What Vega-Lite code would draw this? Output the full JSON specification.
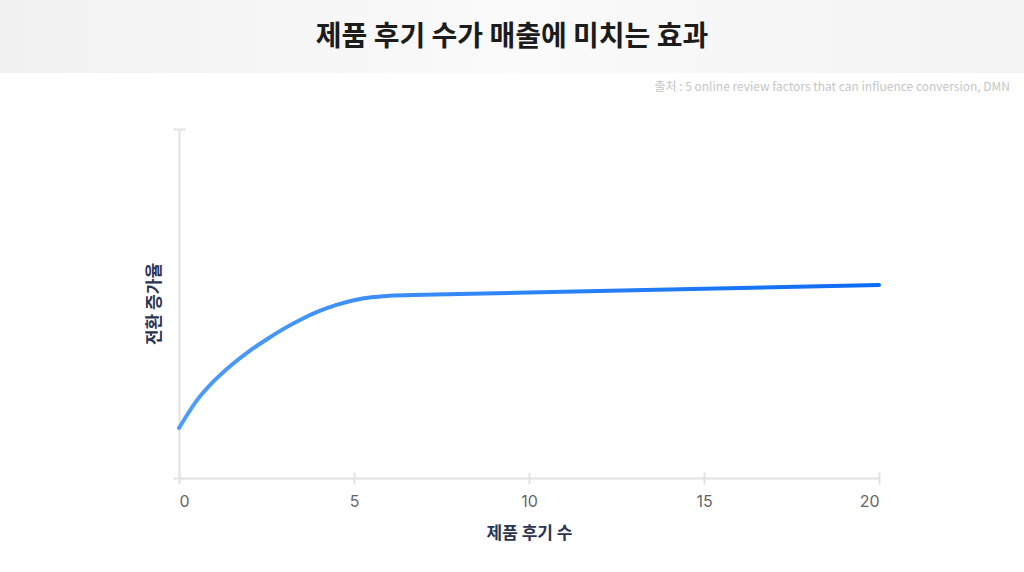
{
  "$schema": "https://vega.github.io/schema/vega-lite/v6.json",
  "padding": {"left": 0, "top": 0, "right": 0, "bottom": 20},
  "background": "white",
  "spacing": 35,
  "config": {
    "view": {"stroke": null},
    "font": "Noto Sans CJK KR",
    "concat": {"spacing": 0}
  },
  "vconcat": [
    {
      "width": 1024,
      "height": 73,
      "view": {
        "stroke": null,
        "fill": {"gradient": "linear", "x1": 0, "y1": 0, "x2": 1, "y2": 0, "stops": [{"offset": 0, "color": "#f1f1f1"}, {"offset": 0.5, "color": "#fafafa"}, {"offset": 1, "color": "#f3f3f3"}]}
      },
      "title": {
        "text": "출처 : 5 online review factors that can influence conversion, DMN",
        "orient": "bottom",
        "anchor": "end",
        "offset": 9,
        "dx": -14,
        "fontSize": 12,
        "fontWeight": "normal",
        "color": "#c6c6c6"
      },
      "data": {"values": [{"t": "제품 후기 수가 매출에 미치는 효과"}]},
      "mark": {"type": "text", "fontSize": 28, "fontWeight": "bold", "color": "#1c1c1c", "dy": 1},
      "encoding": {"text": {"field": "t"}}
    },
    {
      "hconcat": [
        {
          "width": 145,
          "height": 349,
          "data": {"values": []},
          "mark": "point",
          "encoding": {}
        },
        {
          "width": 700,
          "height": 349,
          "data": {
            "values": [
              {"reviews": 0, "lift": 14.3},
              {"reviews": 0.5, "lift": 22.1},
              {"reviews": 1, "lift": 27.8},
              {"reviews": 1.5, "lift": 32.4},
              {"reviews": 2, "lift": 36.3},
              {"reviews": 2.5, "lift": 39.7},
              {"reviews": 3, "lift": 42.8},
              {"reviews": 3.5, "lift": 45.5},
              {"reviews": 4, "lift": 47.8},
              {"reviews": 4.5, "lift": 49.6},
              {"reviews": 5, "lift": 50.95},
              {"reviews": 5.5, "lift": 51.8},
              {"reviews": 6, "lift": 52.2},
              {"reviews": 7, "lift": 52.5},
              {"reviews": 10, "lift": 53.15},
              {"reviews": 15, "lift": 54.2},
              {"reviews": 20, "lift": 55.3}
            ]
          },
          "mark": {
            "type": "line",
            "interpolate": "monotone",
            "strokeWidth": 4,
            "strokeCap": "round",
            "color": {"gradient": "linear", "x1": 0, "y1": 0, "x2": 1, "y2": 0, "stops": [{"offset": 0, "color": "#4f9cf8"}, {"offset": 1, "color": "#0b6bf4"}]}
          },
          "encoding": {
            "x": {
              "field": "reviews",
              "type": "quantitative",
              "scale": {"domain": [0, 20], "nice": false},
              "axis": {
                "values": [0, 5, 10, 15, 20],
                "title": "제품 후기 수",
                "grid": false,
                "domainColor": "#e2e2e2",
                "domainWidth": 2,
                "tickColor": "#e2e2e2",
                "tickWidth": 2,
                "tickSize": 6,
                "labelFont": "Inter",
                "labelFontSize": 16,
                "labelColor": "#666666",
                "labelPadding": 9,
                "titleFontSize": 17,
                "titleFontWeight": "bold",
                "titleColor": "#2b3452",
                "titlePadding": 16,
                "encoding": {"ticks": {"y": {"value": -6}}}
              }
            },
            "y": {
              "field": "lift",
              "type": "quantitative",
              "scale": {"domain": [0, 100], "nice": false},
              "axis": {
                "values": [0, 100],
                "labels": false,
                "grid": false,
                "title": "전환 증가율",
                "domainColor": "#e2e2e2",
                "domainWidth": 2,
                "tickColor": "#e2e2e2",
                "tickWidth": 2,
                "tickSize": 6,
                "titleFontSize": 17,
                "titleFontWeight": "bold",
                "titleColor": "#2b3452",
                "titlePadding": 9,
                "encoding": {"ticks": {"x": {"value": 6}}}
              }
            }
          }
        }
      ]
    }
  ]
}
